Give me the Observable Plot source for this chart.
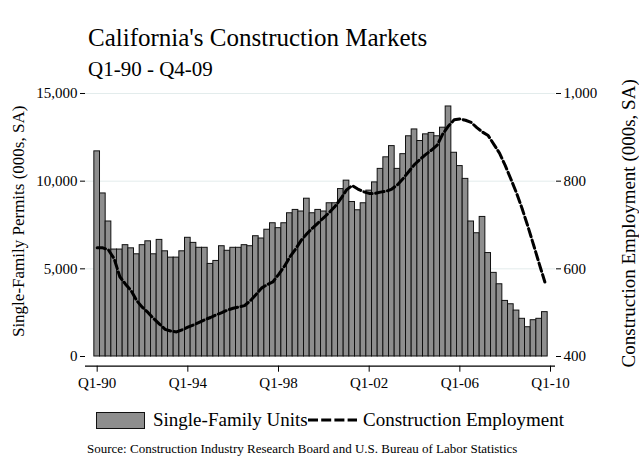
<!DOCTYPE html>
<html><head><meta charset="utf-8">
<script src="https://cdn.jsdelivr.net/npm/d3@7"></script>
<script src="https://cdn.jsdelivr.net/npm/@observablehq/plot@0.6"></script>
<style>
body{margin:0;background:#fff;}
#wrap{position:relative;width:639px;height:457px;overflow:hidden;font-family:"Liberation Serif",serif;color:#000;}
.t{position:absolute;line-height:1;white-space:nowrap;}
</style></head><body><div id="wrap"></div>
<script>
// ---- data ----
const title = "California's Construction Markets";
const subtitle = "Q1-90 - Q4-09";
const source = "Source: Construction Industry Research Board and U.S. Bureau of Labor Statistics";
const leftTitle = "Single-Family Permits (000s, SA)";
const rightTitle = "Construction Employment (000s, SA)";
const seriesNames = ["Single-Family Units", "Construction Employment"];
const years = d3.range(1990, 2010);
const quarters = years.flatMap(y => [1,2,3,4].map(q => `Q${q}-${String(y).slice(2)}`));
const permits = [
  11700, 9300, 7700, 6100, 6100, 6350, 6170, 5830, 6350, 6570, 5830, 6650,
  6000, 5640, 5640, 6000, 6770, 6480, 6200, 6200, 5280, 5450, 6290, 6030,
  6200, 6200, 6350, 6290, 6860, 6730, 7230, 7600, 7320, 7600, 8170, 8360,
  8270, 9000, 8170, 8360, 8270, 8740, 8740, 9550, 10030, 8810, 8340, 8740,
  9460, 9930, 10700, 11360, 12000, 10700, 11540, 12560, 12950, 12290, 12670, 12750,
  12560, 13050, 14260, 11620, 10860, 10130, 7700, 7030, 7960, 5900, 4770, 4120,
  3170, 2980, 2620, 2150, 1670, 2070, 2150, 2530
];
const employment = [
  648, 648, 643, 623, 582, 565, 550, 527, 512, 500, 486, 474,
  462, 458, 456, 461, 467, 472, 478, 484, 489, 495, 500, 506,
  510, 513, 516, 527, 541, 556, 564, 570, 587, 605, 627, 645,
  665, 680, 693, 705, 717, 729, 743, 760, 780, 790, 782, 776,
  772, 772, 775, 777, 782, 792, 806, 822, 838, 850, 861, 871,
  882, 908, 926, 940, 942, 939, 934, 922, 912, 904, 884, 864,
  836, 805, 773, 737, 697, 655, 612, 570
];
const xTicks = ["Q1-90", "Q1-94", "Q1-98", "Q1-02", "Q1-06", "Q1-10"];
const leftTicks = [0, 5000, 10000, 15000];
const rightTicks = [400, 600, 800, 1000];

// ---- build ----
const data = quarters.map((q, i) => ({i, q, permits: permits[i], emp: employment[i]}));
const tickIndex = t => { const k = quarters.indexOf(t); return k >= 0 ? k : quarters.length; };
const xTickPos = xTicks.map(tickIndex);
const empMin = rightTicks[0], empMax = rightTicks[rightTicks.length - 1];
const pMax = leftTicks[leftTicks.length - 1];
const toLeft = v => (v - empMin) / (empMax - empMin) * pMax;
const fromLeft = v => v / pMax * (empMax - empMin) + empMin;
const yBase = -553; // axis line sits a little below zero (offset axis)
const fmt = d3.format(",");

const wrap = document.getElementById("wrap");
function addText(txt, left, top, size) {
  const d = document.createElement("div");
  d.className = "t"; d.textContent = txt;
  d.style.left = left + "px"; d.style.top = top + "px"; d.style.fontSize = size + "px";
  wrap.appendChild(d); return d;
}
addText(title, 88, 25, 25);
addText(subtitle, 88, 59, 21);

const chart = Plot.plot({
  width: 639,
  height: 310,
  marginLeft: 85,
  marginRight: 84,
  marginTop: 8,
  marginBottom: 24.3,
  style: {fontFamily: "Liberation Serif, serif", fontSize: "15px", color: "#000", background: "transparent", overflow: "visible"},
  x: {type: "linear", domain: [-2.06, 80.88]},
  y: {domain: [yBase, 15285]},
  marks: [
    Plot.gridY(leftTicks.slice(1), {stroke: "#e3ecec", strokeOpacity: 1, strokeWidth: 1}),
    Plot.rect(data, {x1: d => d.i - 0.5, x2: d => d.i + 0.5, y1: 0, y2: "permits",
      fill: "#8e8e8e", stroke: "#111", strokeWidth: 1}),
    Plot.line(data, {x: "i", y: d => toLeft(d.emp), stroke: "#000", strokeWidth: 3,
      strokeDasharray: "8.5,3.5"}),
    Plot.ruleY([yBase], {stroke: "#000", strokeWidth: 1.2}),
    Plot.axisY(leftTicks, {anchor: "left", tickSize: 5, tickPadding: 3, tickFormat: fmt, label: null, fontSize: 15}),
    Plot.axisY(rightTicks.map(toLeft), {anchor: "right", tickSize: 5, tickPadding: 3,
      tickFormat: v => fmt(Math.round(fromLeft(v))), label: null, fontSize: 15}),
    Plot.axisX(xTickPos, {anchor: "bottom", tickSize: 6, tickPadding: 5,
      tickFormat: v => xTicks[xTickPos.indexOf(v)], label: null, fontSize: 15}),
    Plot.text([leftTitle], {text: d => d, frameAnchor: "left", textAnchor: "middle", rotate: -90, dx: -67, dy: -6, fontSize: 17}),
    Plot.text([rightTitle], {text: d => d, frameAnchor: "right", textAnchor: "middle", rotate: -90, dx: 73, dy: -4, fontSize: 19})
  ]
});
chart.style.position = "absolute";
chart.style.left = "0px";
chart.style.top = "80px";
wrap.appendChild(chart);

// legend
const box = document.createElement("div");
Object.assign(box.style, {position: "absolute", left: "96px", top: "412px", width: "47px", height: "15px",
  background: "#8e8e8e", border: "1px solid #111"});
wrap.appendChild(box);
addText(seriesNames[0], 153, 410, 19);
const ns = "http://www.w3.org/2000/svg";
const ls = document.createElementNS(ns, "svg");
ls.setAttribute("width", 54); ls.setAttribute("height", 12);
Object.assign(ls.style, {position: "absolute", left: "306px", top: "414px"});
const ln = document.createElementNS(ns, "line");
ln.setAttribute("x1", 2); ln.setAttribute("x2", 51); ln.setAttribute("y1", 6); ln.setAttribute("y2", 6);
ln.setAttribute("stroke", "#000"); ln.setAttribute("stroke-width", 3.2); ln.setAttribute("stroke-dasharray", "10,3.2");
ls.appendChild(ln); wrap.appendChild(ls);
addText(seriesNames[1], 363, 410, 19);
addText(source, 87, 442, 13);
</script></body></html>
